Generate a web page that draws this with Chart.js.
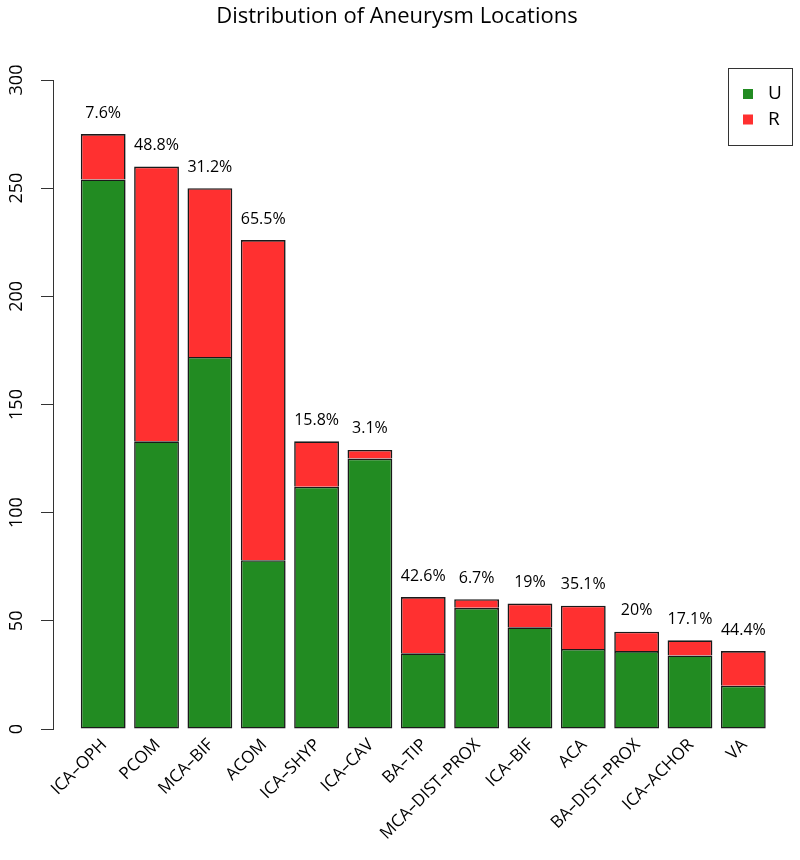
<!DOCTYPE html>
<html><head><meta charset="utf-8">
<script src="https://cdn.jsdelivr.net/npm/chart.js@4"></script>
<style>html,body{margin:0;padding:0;background:#fff}#wrap{width:800px;height:860px}</style>
</head><body><div id="wrap"><canvas id="c" width="800" height="860"></canvas></div>
<script>
const categories = ['ICA–OPH','PCOM','MCA–BIF','ACOM','ICA–SHYP','ICA–CAV','BA–TIP','MCA–DIST–PROX','ICA–BIF','ACA','BA–DIST–PROX','ICA–ACHOR','VA'];
const unruptured = [254,133,172,78,112,125,35,56,47,37,36,34,20];
const ruptured   = [21,127,78,148,21,4,26,4,11,20,9,7,16];
const yTicks = [0,50,100,150,200,250,300];
const seriesNames = ['U','R'];
const chartTitle = 'Distribution of Aneurysm Locations';

const FONT = "'Open Sans', sans-serif";
const GREEN = '#228B22', RED = '#FF3030';

const pctPlugin = {
  id: 'pct',
  afterDatasetsDraw(chart) {
    const {ctx, scales: {x, y}} = chart;
    ctx.save();
    ctx.font = `16px ${FONT}`;
    ctx.fillStyle = '#000';
    ctx.textAlign = 'center';
    ctx.textBaseline = 'middle';
    categories.forEach((c, i) => {
      const total = unruptured[i] + ruptured[i];
      const pct = +(ruptured[i] / total * 100).toFixed(1);
      ctx.fillText(pct + '%', x.getPixelForValue(i), y.getPixelForValue(total) - 21);
    });
    ctx.restore();
  }
};

const legendPlugin = {
  id: 'boxLegend',
  afterDraw(chart) {
    const {ctx} = chart;
    const L = 728, T = 68, W = 64, H = 77;
    ctx.save();
    ctx.strokeStyle = '#333'; ctx.lineWidth = 1;
    ctx.strokeRect(L + 0.5, T + 0.5, W, H);
    chart.data.datasets.forEach((ds, k) => {
      const cy = T + 26 + k * 25.5;
      ctx.fillStyle = ds.backgroundColor;
      ctx.fillRect(L + 15, cy - 5, 10, 10);
      ctx.fillStyle = '#000';
      ctx.font = `19px ${FONT}`;
      ctx.textAlign = 'left'; ctx.textBaseline = 'middle';
      ctx.fillText(ds.label, L + 40, cy);
    });
    ctx.restore();
  }
};

new Chart(document.getElementById('c'), {
  type: 'bar',
  data: {
    datasets: [
      { label: seriesNames[0], data: categories.map((c, i) => ({x: i, y: unruptured[i]})),
        backgroundColor: GREEN, borderColor: '#1a1a1a', borderWidth: 1.6, borderSkipped: false,
        barPercentage: 0.84, categoryPercentage: 1 },
      { label: seriesNames[1], data: categories.map((c, i) => ({x: i, y: ruptured[i]})),
        backgroundColor: RED, borderColor: '#1a1a1a', borderWidth: 1.6, borderSkipped: 'start',
        barPercentage: 0.84, categoryPercentage: 1 }
    ]
  },
  options: {
    responsive: false,
    animation: false,
    devicePixelRatio: 1,
    layout: { padding: { left: 0, right: 6, top: 0, bottom: 0 } },
    plugins: {
      legend: { display: false },
      tooltip: { enabled: false },
      title: { display: true, text: chartTitle, color: '#000',
        font: { family: FONT, size: 22, weight: 'normal' },
        padding: { top: 4, bottom: 49.6 } }
    },
    scales: {
      x: {
        type: 'linear', stacked: true, offset: false, min: -0.941, max: 12.95,
        grid: { display: false, drawTicks: false },
        border: { display: false },
        afterBuildTicks: s => { s.ticks = categories.map((c, i) => ({value: i})); },
        afterFit: s => { s.height = 131; s.paddingLeft = 0; s.paddingRight = 0; },
        ticks: {
          autoSkip: false, minRotation: 45, maxRotation: 45, padding: 6, labelOffset: 1,
          color: '#000', font: { family: FONT, size: 17 },
          callback: v => categories[v]
        }
      },
      y: {
        stacked: true, min: 0, max: 300,
        afterBuildTicks: s => { s.ticks = yTicks.map(v => ({value: v})); },
        afterFit: s => { s.width = 53; },
        grid: { drawOnChartArea: false, drawTicks: true, tickLength: 12, color: '#333', lineWidth: 1 },
        border: { display: true, color: '#333', width: 1 },
        ticks: {
          minRotation: 90, maxRotation: 90, crossAlign: 'center', padding: 9,
          color: '#000', font: { family: FONT, size: 18 }
        }
      }
    }
  },
  plugins: [pctPlugin, legendPlugin]
});
</script>
</body></html>
